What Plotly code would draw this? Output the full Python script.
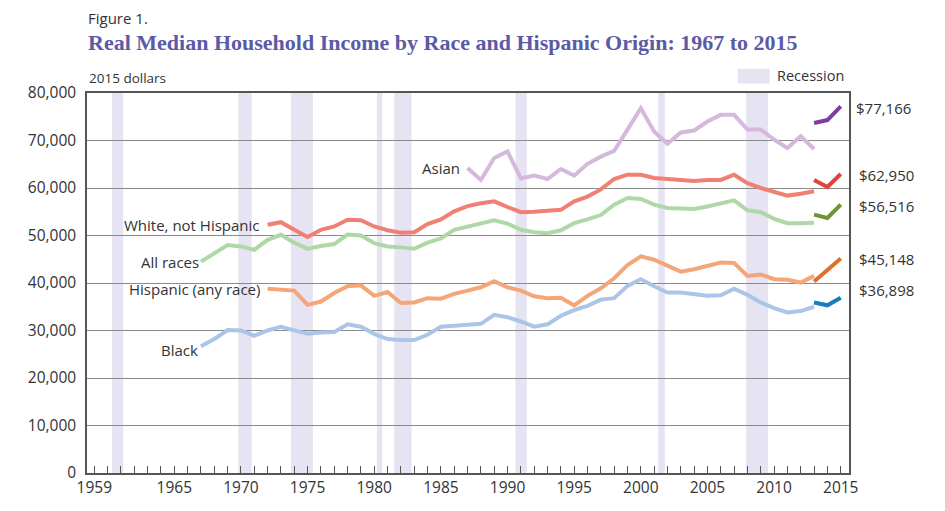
import plotly.graph_objects as go

# years for the light (old method) series
years_67 = list(range(1967, 2014))
years_72 = list(range(1972, 2014))
years_87 = list(range(1987, 2014))
years_new = [2013, 2014, 2015]

all_races = [44500, 46200, 48000, 47700, 47000, 49100, 50150, 48500, 47200, 47800,
             48200, 50200, 50000, 48400, 47700, 47500, 47200, 48500, 49400, 51200,
             51900, 52400, 53200, 52500, 51200, 50700, 50500, 51100, 52600, 53400,
             54300, 56500, 57900, 57700, 56500, 55800, 55700, 55600, 56100, 56700,
             57400, 55300, 54900, 53500, 52600, 52600, 52700]
all_races_new = [54400, 53700, 56516]

white_nh = [52250, 52800, 51200, 49700, 51200, 51900, 53300, 53200, 51900, 51100,
            50600, 50700, 52400, 53400, 55100, 56200, 56800, 57200, 56000, 54900,
            55000, 55100, 55400, 57200, 58200, 59700, 61900, 62800, 62800, 62100,
            61900, 61700, 61500, 61700, 61700, 62800, 61000, 60000, 59300, 58400,
            58800, 59300]
white_nh_new = [61700, 60200, 62950]

asian = [64200, 61700, 66300, 67700, 62000, 62600, 61900, 64000, 62600, 65100,
         66600, 67800, 72300, 76800, 71900, 69300, 71700, 72100, 74000, 75400,
         75400, 72300, 72300, 70200, 68400, 70900, 68200]
asian_new = [73700, 74300, 77166]

hispanic = [38800, 38700, 38400, 35400, 36100, 37900, 39300, 39500, 37300, 38100,
            35800, 35900, 36800, 36700, 37700, 38400, 39100, 40400, 39100, 38400,
            37200, 36800, 36900, 35300, 37300, 38900, 41000, 43800, 45600, 44900,
            43600, 42400, 42900, 43500, 44300, 44200, 41500, 41800, 40800, 40700,
            40100, 41500]
hispanic_new = [40300, 42800, 45148]

black = [26700, 28200, 30100, 30000, 28900, 30000, 30800, 30000, 29300, 29600,
         29700, 31300, 30800, 29300, 28200, 28000, 28000, 29100, 30800, 31000,
         31100, 31400, 33300, 32800, 31900, 30800, 31300, 33100, 34300, 35200,
         36500, 36800, 39400, 40800, 39300, 38000, 38000, 37600, 37300, 37400,
         38800, 37500, 35900, 34700, 33800, 34100, 35000]
black_new = [35900, 35300, 36898]

recessions = [(1960.33, 1961.17), (1969.8, 1970.8), (1973.75, 1975.4), (1980.2, 1980.6),
              (1981.5, 1982.8), (1990.6, 1991.45), (2001.3, 2001.8), (2007.9, 2009.55)]

tick_years = list(range(1959, 2016))
labelled = [1959, 1965, 1970, 1975, 1980, 1985, 1990, 1995, 2000, 2005, 2010, 2015]

FONT = "Open Sans"

series = [
    ("Asian", years_87, asian, "#d4b9dd", asian_new, "#7d3f9f"),
    ("White, not Hispanic", years_72, white_nh, "#ef8073", white_nh_new, "#e0443f"),
    ("All races", years_67, all_races, "#aed8a6", all_races_new, "#6e9533"),
    ("Hispanic (any race)", years_72, hispanic, "#f4a679", hispanic_new, "#e0702a"),
    ("Black", years_67, black, "#abc5e8", black_new, "#1b7bc0"),
]

fig = go.Figure()
for name, yrs, vals, col, new_vals, new_col in series:
    fig.add_trace(go.Scatter(x=yrs, y=vals, mode="lines", name=name,
                             line=dict(color=col, width=4), hoverinfo="x+y"))
    fig.add_trace(go.Scatter(x=years_new, y=new_vals, mode="lines", name=name + " (new)",
                             line=dict(color=new_col, width=4), hoverinfo="x+y"))

for x0, x1 in recessions:
    fig.add_shape(type="rect", xref="x", yref="paper", x0=x0, x1=x1, y0=0, y1=1,
                  fillcolor="#e6e4f2", line_width=0, layer="below")

# recession legend
fig.add_shape(type="rect", xref="paper", yref="paper", x0=0.854, x1=0.896,
              y0=1.025, y1=1.064, fillcolor="#e6e4f2", line_width=0)
fig.add_annotation(text="Recession", xref="paper", yref="paper", x=0.903, y=1.046,
                   xanchor="left", yanchor="middle", showarrow=False,
                   font=dict(family=FONT, size=14.5, color="#333"))

# titles
fig.add_annotation(text="Figure 1.", xref="paper", yref="paper", x=0.0, y=1.197,
                   xanchor="left", yanchor="middle", showarrow=False, borderpad=0,
                   font=dict(family=FONT, size=15, color="#333"))
fig.add_annotation(text="<b>Real Median Household Income by Race and Hispanic Origin: 1967 to 2015</b>",
                   xref="paper", yref="paper", x=0.0, y=1.134,
                   xanchor="left", yanchor="middle", showarrow=False, borderpad=0,
                   font=dict(family="Liberation Serif", size=22, color="#5b5aa6"))
fig.add_annotation(text="2015 dollars", xref="paper", yref="paper", x=0.0, y=1.040,
                   xanchor="left", yanchor="middle", showarrow=False,
                   font=dict(family=FONT, size=13.5, color="#333"))

# line labels
labels = [("Asian", 1986.6, 64300), ("White, not Hispanic", 1971.6, 52300),
          ("All races", 1967.0, 44500), ("Hispanic (any race)", 1971.6, 38700),
          ("Black", 1966.9, 25900)]
for txt, lx, ly in labels:
    fig.add_annotation(text=txt, x=lx, y=ly, xanchor="right", yanchor="middle",
                       showarrow=False, font=dict(family=FONT, size=15, color="#333"))

# end values
ends = [("$77,166", 76900, 1.006), ("$62,950", 62800, 1.010), ("$56,516", 56300, 1.010),
        ("$45,148", 45100, 1.010), ("$36,898", 38600, 1.010)]
for txt, ly, lx in ends:
    fig.add_annotation(text=txt, xref="paper", x=lx, y=ly, xanchor="left", yanchor="middle",
                       showarrow=False, font=dict(family=FONT, size=15, color="#333"))

# page body keeps an 8px margin, so the figure is 16px smaller than the window
fig.update_layout(
    width=929, height=495,
    margin=dict(l=79, r=88, t=85, b=30),
    paper_bgcolor="white", plot_bgcolor="white",
    showlegend=False,
    font=dict(family=FONT, size=14, color="#333"),
    xaxis=dict(range=[1958.45, 2015.62], tickvals=tick_years,
               ticktext=[str(y) if y in labelled else "" for y in tick_years],
               ticks="inside", ticklen=7, tickcolor="#555", tickwidth=1,
               showgrid=False, showline=True, linecolor="#555", linewidth=1.5,
               mirror=True, zeroline=False, fixedrange=True, automargin=False,
               tickfont=dict(family=FONT, size=15.5, color="#333")),
    yaxis=dict(range=[0, 80000], dtick=10000, tickformat=",", showgrid=True,
               gridcolor="#8a8a8a", gridwidth=1, showline=True, linecolor="#555",
               linewidth=1.5, mirror=True, zeroline=False, ticks="", fixedrange=True,
               ticklabelstandoff=6, automargin=False,
               tickfont=dict(family=FONT, size=15.5, color="#333")),
)

fig.write_html("out.html")
